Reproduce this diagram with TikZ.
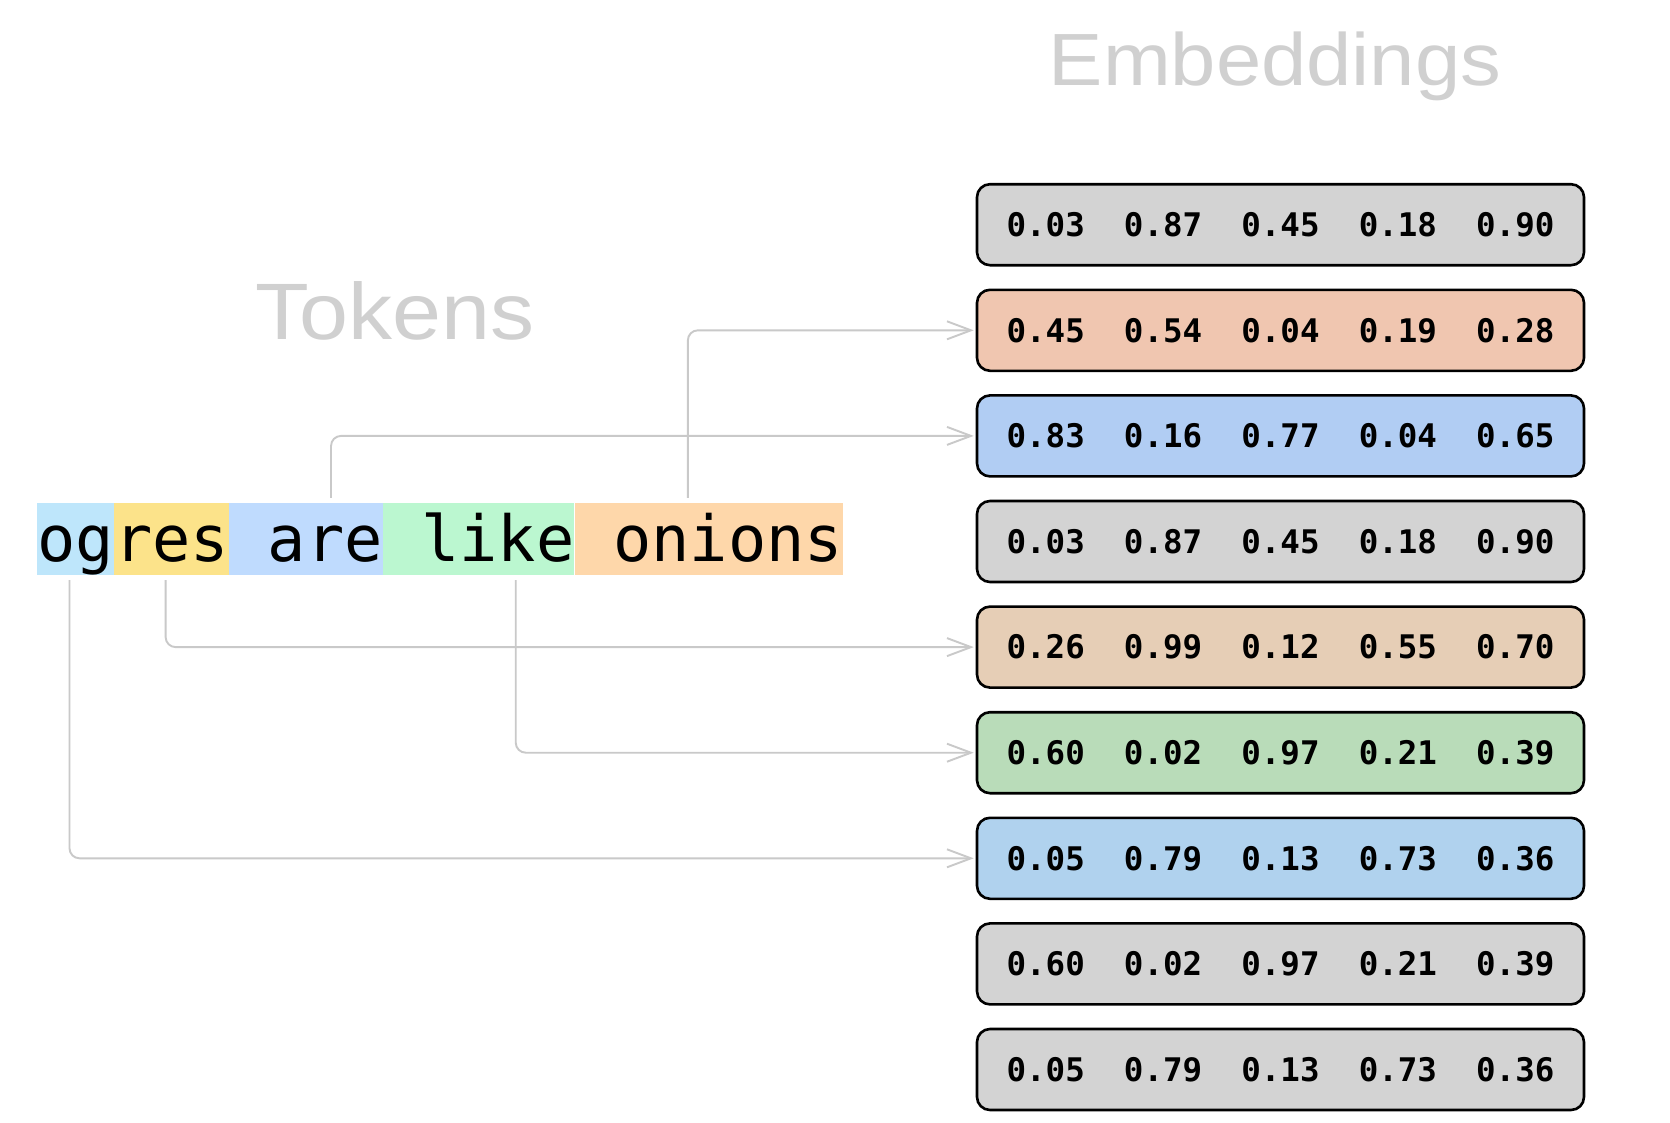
\documentclass[tikz,border=0pt]{standalone}
\usepackage{fontspec}
\setmonofont{DejaVu Sans Mono}
\newfontfamily\titlefont{Liberation Sans}
\usetikzlibrary{arrows.meta}
\definecolor{cOg}{HTML}{BEE6FB}
\definecolor{cRes}{HTML}{FCE38A}
\definecolor{cAre}{HTML}{BFDBFE}
\definecolor{cLike}{HTML}{BBF7D0}
\definecolor{cOnions}{HTML}{FED7AA}
\definecolor{eGray}{HTML}{D3D3D3}
\definecolor{eSalmon}{HTML}{F0C6B0}
\definecolor{eBlue}{HTML}{B1CDF3}
\definecolor{eTan}{HTML}{E6CEB6}
\definecolor{eGreen}{HTML}{B9DCB9}
\definecolor{eBlueB}{HTML}{B0D2EE}
\definecolor{lineGray}{HTML}{C9C9C9}
\definecolor{titleGray}{HTML}{D0D0D0}
\begin{document}
\begin{tikzpicture}[x=1pt,y=-1pt,
  tok/.style={inner sep=0pt, text height=58pt, text depth=14pt, anchor=base west,
    font=\ttfamily\fontsize{63.6}{70}\selectfont},
  emb/.style={draw=black, line width=2.6pt, rounded corners=13pt, minimum width=607pt,
    minimum height=81pt, inner sep=0pt, font=\ttfamily\bfseries\fontsize{32.5}{36}\selectfont},
  conn/.style={draw=lineGray, line width=1.9pt, rounded corners=10pt, shorten >=2pt,
    -{Straight Barb[length=24pt,width=18pt,line width=1.9pt]}},
  ttl/.style={text=titleGray, anchor=base, inner sep=0pt}]
\useasboundingbox[fill=white] (0,0) rectangle (1670,1122);

% titles
\node[ttl, font=\titlefont\fontsize{74}{80}\selectfont] (embt) at (1275,85) {\scalebox{1.1}[1]{Embeddings}};
\node[ttl, font=\titlefont\fontsize{80}{88}\selectfont] (tokt) at (395,339) {\scalebox{1.1}[1]{Tokens}};

% tokens
\node[tok, fill=cOg] (t1) at (37,561) {og};
\node[tok, fill=cRes] (t2) at (t1.base east) {res};
\node[tok, fill=cAre] (t3) at (t2.base east) {\ are};
\node[tok, fill=cLike] (t4) at (t3.base east) {\ like};
\node[tok, fill=cOnions] (t5) at (t4.base east) {\ onions};

% embeddings
\node[emb, fill=eGray]   (e1) at (1280.5,224.7) {0.03\ \ 0.87\ \ 0.45\ \ 0.18\ \ 0.90};
\node[emb, fill=eSalmon] (e2) at (1280.5,330.3) {0.45\ \ 0.54\ \ 0.04\ \ 0.19\ \ 0.28};
\node[emb, fill=eBlue]   (e3) at (1280.5,435.9) {0.83\ \ 0.16\ \ 0.77\ \ 0.04\ \ 0.65};
\node[emb, fill=eGray]   (e4) at (1280.5,541.5) {0.03\ \ 0.87\ \ 0.45\ \ 0.18\ \ 0.90};
\node[emb, fill=eTan]    (e5) at (1280.5,647.1) {0.26\ \ 0.99\ \ 0.12\ \ 0.55\ \ 0.70};
\node[emb, fill=eGreen]  (e6) at (1280.5,752.7) {0.60\ \ 0.02\ \ 0.97\ \ 0.21\ \ 0.39};
\node[emb, fill=eBlueB]  (e7) at (1280.5,858.3) {0.05\ \ 0.79\ \ 0.13\ \ 0.73\ \ 0.36};
\node[emb, fill=eGray]   (e8) at (1280.5,963.9) {0.60\ \ 0.02\ \ 0.97\ \ 0.21\ \ 0.39};
\node[emb, fill=eGray]   (e9) at (1280.5,1069.5) {0.05\ \ 0.79\ \ 0.13\ \ 0.73\ \ 0.36};

% connectors
\draw[conn] ([xshift=-21pt,yshift=5pt]t5.north) |- (e2.west);
\draw[conn] ([xshift=25pt,yshift=5pt]t3.north) |- (e3.west);
\draw[conn] ([xshift=-6pt,yshift=-5pt]t2.south) |- (e5.west);
\draw[conn] ([xshift=37pt,yshift=-5pt]t4.south) |- (e6.west);
\draw[conn] ([xshift=-6pt,yshift=-5pt]t1.south) |- (e7.west);
\end{tikzpicture}
\end{document}
